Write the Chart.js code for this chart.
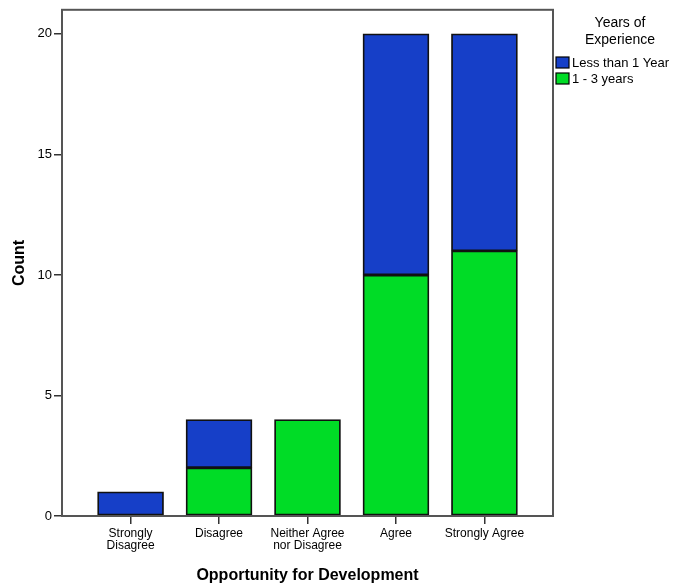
<!DOCTYPE html>
<html>
<head>
<meta charset="utf-8">
<script src="https://cdn.jsdelivr.net/npm/chart.js@4.4.1/dist/chart.umd.min.js"></script>
<style>
  html, body { margin: 0; padding: 0; background: #fff; }
  #wrap { width: 673px; height: 585px; }
</style>
</head>
<body>
<div id="wrap"><canvas id="budgetChart" width="673" height="585"></canvas></div>
<script>
// Données du graphique
const categories = [
  ["Strongly", "Disagree"],
  "Disagree",
  ["Neither Agree", "nor Disagree"],
  "Agree",
  "Strongly Agree"
];
const seriesNames = ["Less than 1 Year", "1 - 3 years"];
const lessThanOne = [1, 2, 0, 10, 9];
const oneToThree = [0, 2, 4, 10, 11];
const yTicks = [0, 5, 10, 15, 20];
const legendTitle = ["Years of", "Experience"];

const blue = "#163fc8";
const green = "#00dc26";
const font = "'Liberation Sans', Arial, sans-serif";

// Transforme une série en points {x, y}
function toPoints(values) {
  return values.map((v, i) => ({ x: i, y: v }));
}

// Cadre gris autour de la zone du graphique + légende à droite
const framePlugin = {
  id: "frame",
  afterDatasetsDraw(chart) {
    const ctx = chart.ctx;
    const a = chart.chartArea;
    ctx.save();
    ctx.strokeStyle = "#555";
    ctx.lineWidth = 2;
    ctx.strokeRect(a.left, a.top, a.right - a.left, a.bottom - a.top);
    ctx.restore();
  },
  afterDraw(chart) {
    const ctx = chart.ctx;
    ctx.save();
    ctx.fillStyle = "#000";
    ctx.textAlign = "center";
    ctx.textBaseline = "middle";
    ctx.font = "14px " + font;
    legendTitle.forEach((line, i) => ctx.fillText(line, 620, 23 + i * 17));
    // les items, dans l'ordre des séries
    ctx.textAlign = "left";
    ctx.font = "13px " + font;
    const items = [chart.data.datasets[1], chart.data.datasets[0]];
    items.forEach((ds, i) => {
      const y = 57 + i * 16;
      ctx.fillStyle = ds.backgroundColor;
      ctx.fillRect(556, y, 13, 11);
      ctx.strokeStyle = "#000";
      ctx.lineWidth = 1.2;
      ctx.strokeRect(556, y, 13, 11);
      ctx.fillStyle = "#000";
      ctx.fillText(ds.label, 572, y + 6);
    });
    ctx.restore();
  }
};

const ctx = document.getElementById("budgetChart").getContext("2d");
new Chart(ctx, {
  type: "bar",
  data: {
    datasets: [
      {
        label: seriesNames[1],
        data: toPoints(oneToThree),
        backgroundColor: green,
        borderColor: "#111",
        borderWidth: 1.8,
        borderSkipped: false,
        barThickness: 66
      },
      {
        label: seriesNames[0],
        data: toPoints(lessThanOne),
        backgroundColor: blue,
        borderColor: "#111",
        borderWidth: 1.8,
        borderSkipped: false,
        barThickness: 66
      }
    ]
  },
  options: {
    responsive: false,
    animation: false,
    layout: { padding: { top: 8, right: 120, left: 0, bottom: 0 } },
    plugins: {
      legend: { display: false },
      tooltip: { enabled: false }
    },
    scales: {
      x: {
        type: "linear",
        stacked: true,
        offset: false,
        min: -0.775,
        max: 4.775,
        afterBuildTicks(scale) {
          scale.ticks = categories.map((c, i) => ({ value: i }));
        },
        afterFit(scale) { scale.height = 69; },
        ticks: {
          autoSkip: false,
          maxRotation: 0,
          color: "#000",
          padding: 4,
          font: { family: font, size: 12, lineHeight: 1.0 },
          callback: (v) => categories[v]
        },
        grid: { offset: false, drawOnChartArea: false, drawTicks: true, tickLength: 8, color: "#333", lineWidth: 1.5 },
        border: { display: false },
        title: {
          display: true,
          text: "Opportunity for Development",
          color: "#000",
          padding: { top: 10, bottom: 0 },
          font: { family: font, size: 16, weight: "bold" }
        }
      },
      y: {
        stacked: true,
        min: 0,
        max: 21,
        afterBuildTicks(scale) {
          scale.ticks = yTicks.map(v => ({ value: v }));
        },
        afterFit(scale) { scale.width = 62; },
        ticks: {
          color: "#000",
          padding: 2,
          font: { family: font, size: 13 }
        },
        grid: { drawOnChartArea: false, drawTicks: true, tickLength: 8, color: "#333", lineWidth: 1.5 },
        border: { display: false },
        title: {
          display: true,
          text: "Count",
          color: "#000",
          padding: { top: 10, bottom: 6 },
          font: { family: font, size: 16, weight: "bold" }
        }
      }
    }
  },
  plugins: [framePlugin]
});
</script>
</body>
</html>
